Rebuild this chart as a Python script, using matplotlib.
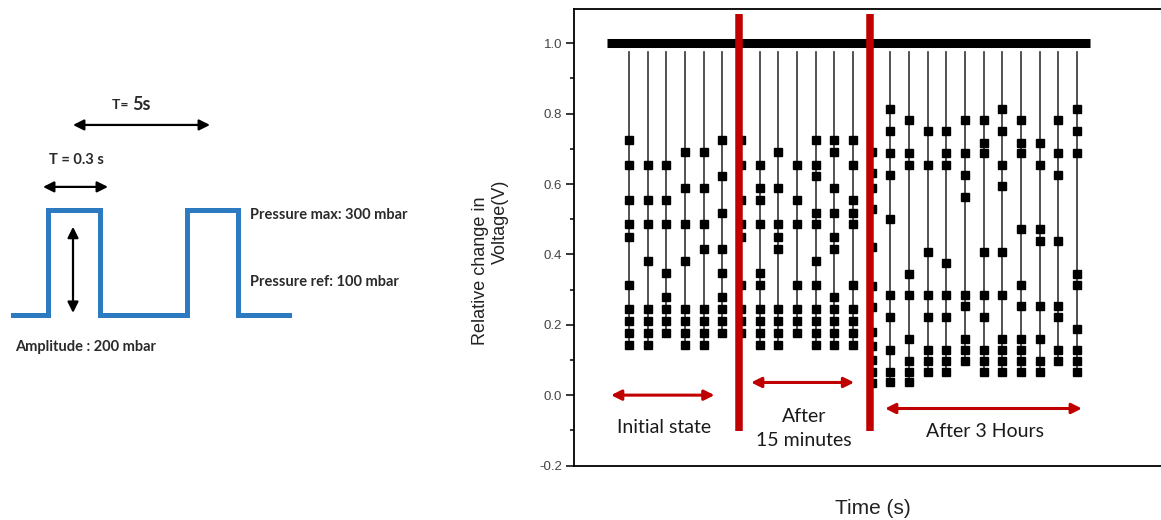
import matplotlib
matplotlib.use("Agg")
import matplotlib.pyplot as plt
from matplotlib.ticker import MultipleLocator, FormatStrFormatter

# ---- left panel: pressure pulse schematic (x in drawing units, y in mbar)
pulse_x = [13, 48, 48, 100, 100, 187, 187, 238, 238, 289]
pulse_p = [100, 100, 300, 300, 100, 100, 300, 300, 100, 100]
period_arrow = (73, 210, 462)      # x0, x1, level
width_arrow = (43, 108, 344)
amp_arrow = (73, 268, 104)         # x, top, bottom

# ---- right panel: relative change in voltage per pulse
pulse_t = [5 * i for i in range(25)]
peaks = [
    [0.726, 0.655, 0.554, 0.485, 0.450, 0.313, 0.244, 0.210, 0.176, 0.142],
    [0.655, 0.554, 0.485, 0.381, 0.244, 0.210, 0.176, 0.142],
    [0.655, 0.554, 0.485, 0.346, 0.278, 0.244, 0.210, 0.176],
    [0.690, 0.588, 0.485, 0.381, 0.244, 0.210, 0.176, 0.142],
    [0.690, 0.588, 0.485, 0.415, 0.244, 0.210, 0.176, 0.142],
    [0.726, 0.622, 0.518, 0.415, 0.346, 0.278, 0.244, 0.210, 0.176],
    [0.726, 0.655, 0.554, 0.485, 0.450, 0.313, 0.244, 0.210, 0.176],
    [0.655, 0.588, 0.554, 0.485, 0.346, 0.313, 0.244, 0.210, 0.176, 0.142],
    [0.690, 0.588, 0.485, 0.450, 0.415, 0.244, 0.210, 0.176, 0.142],
    [0.655, 0.554, 0.485, 0.313, 0.244, 0.210, 0.176],
    [0.726, 0.655, 0.622, 0.518, 0.485, 0.381, 0.313, 0.244, 0.210, 0.176, 0.142],
    [0.726, 0.690, 0.588, 0.518, 0.450, 0.415, 0.278, 0.244, 0.210, 0.176, 0.142],
    [0.726, 0.655, 0.554, 0.518, 0.485, 0.313, 0.244, 0.210, 0.176, 0.142],
    [0.69, 0.63, 0.59, 0.53, 0.42, 0.31, 0.25, 0.18, 0.14, 0.10, 0.065, 0.035],
    [0.813, 0.752, 0.688, 0.626, 0.501, 0.284, 0.223, 0.127, 0.066, 0.036],
    [0.781, 0.688, 0.655, 0.344, 0.284, 0.159, 0.096, 0.066, 0.036],
    [0.752, 0.655, 0.408, 0.284, 0.223, 0.127, 0.096, 0.066],
    [0.752, 0.688, 0.655, 0.376, 0.284, 0.223, 0.127, 0.096, 0.066],
    [0.781, 0.688, 0.626, 0.563, 0.284, 0.253, 0.159, 0.127, 0.096],
    [0.781, 0.718, 0.688, 0.408, 0.284, 0.223, 0.127, 0.096, 0.066],
    [0.813, 0.752, 0.655, 0.594, 0.408, 0.284, 0.159, 0.127, 0.096, 0.066],
    [0.781, 0.718, 0.688, 0.471, 0.313, 0.253, 0.159, 0.127, 0.096, 0.066],
    [0.718, 0.655, 0.471, 0.439, 0.253, 0.159, 0.096, 0.066],
    [0.781, 0.688, 0.626, 0.439, 0.253, 0.223, 0.127, 0.096],
    [0.813, 0.752, 0.688, 0.344, 0.313, 0.189, 0.127, 0.096, 0.066],
]
stem_top = 0.974
baseline_t = (-6, 123.5)
baseline_v = 1.0
dividers = [29.5, 64.5]
divider_span = (-0.101, 1.082)
phases = ["Initial state", "After\n15 minutes", "After 3 Hours"]
phase_arrows = [(-4.8, 22.9, 0.0), (32.7, 60.3, 0.036), (68.6, 121.3, -0.038)]
phase_text_y = [-0.092, -0.095, -0.103]

RED = "#C00000"
BLUE = "#2C7BC0"

fig = plt.figure(figsize=(11.61, 5.20), dpi=100)

# left schematic
axl = fig.add_axes([0, 0, 420 / 1161, 1])
axl.set_xlim(0, 420)
axl.set_ylim(-290.5, 700)
axl.axis("off")
axl.plot(pulse_x, pulse_p, color=BLUE, lw=3.6, solid_joinstyle="miter")

arr = dict(arrowstyle="<|-|>", color="black", lw=1.6, mutation_scale=16,
           shrinkA=0, shrinkB=0)
axl.annotate("", xy=(period_arrow[0], period_arrow[2]),
             xytext=(period_arrow[1], period_arrow[2]), arrowprops=arr)
axl.annotate("", xy=(width_arrow[0], width_arrow[2]),
             xytext=(width_arrow[1], width_arrow[2]), arrowprops=arr)
axl.annotate("", xy=(amp_arrow[0], amp_arrow[1]),
             xytext=(amp_arrow[0], amp_arrow[2]), arrowprops=arr)

tc = "#2a2a2a"
axl.text(132, 500, "T= ", ha="right", va="center", fontsize=10,
         family="Lato", weight="bold", color=tc)
axl.text(132, 500, "5s", ha="left", va="center", fontsize=13,
         family="Lato", weight="bold", color=tc)
axl.text(76, 395, "T = 0.3 s", ha="center", va="center", fontsize=10.5,
         family="Lato", weight="bold", color=tc)
axl.text(250, 290, "Pressure max: 300 mbar", ha="left", va="center",
         fontsize=10.5, family="Lato", weight="bold", color=tc)
axl.text(250, 163, "Pressure ref: 100 mbar", ha="left", va="center",
         fontsize=10.5, family="Lato", weight="bold", color=tc)
axl.text(15, 39, "Amplitude : 200 mbar", ha="left", va="center",
         fontsize=10.5, family="Lato", weight="bold", color=tc)

# right chart
ax = fig.add_axes([574 / 1161, (520 - 465.5) / 520, 587 / 1161, 456.5 / 520])
ax.set_xlim(-14.73, 142.5)
ax.set_ylim(-0.2, 1.0975)

ax.plot(baseline_t, [baseline_v, baseline_v], color="black", lw=6.5,
        solid_capstyle="butt", zorder=3)
for t, vals in zip(pulse_t, peaks):
    ax.plot([t, t], [stem_top, min(vals)], color="#333333", lw=1.2, zorder=2)
    ax.plot([t] * len(vals), vals, ls="none", marker="s", ms=6,
            color="black", zorder=3)

for d in dividers:
    ax.plot([d, d], divider_span, color=RED, lw=5.4, solid_capstyle="butt",
            zorder=4, clip_on=False)

red_arr = dict(arrowstyle="<|-|>", color=RED, lw=2.2, mutation_scale=15,
               shrinkA=0, shrinkB=0)
for (x0, x1, y), label, ty in zip(phase_arrows, phases, phase_text_y):
    ax.annotate("", xy=(x0, y), xytext=(x1, y), arrowprops=red_arr, zorder=5)
    ax.text((x0 + x1) / 2 + 0.3, ty, label, ha="center", va="center",
            fontsize=14, family="Lato", color="#1a1a1a", linespacing=1.5)

ax.spines["right"].set_visible(False)
for s in ["left", "top", "bottom"]:
    ax.spines[s].set_linewidth(1.3)
ax.set_xticks([])
ax.yaxis.set_major_locator(MultipleLocator(0.2))
ax.yaxis.set_minor_locator(MultipleLocator(0.1))
ax.yaxis.set_major_formatter(FormatStrFormatter("%.1f"))
ax.tick_params(axis="y", which="major", direction="out", length=5.5, width=1.1,
               labelsize=9.5, labelcolor="#444444", pad=3)
ax.tick_params(axis="y", which="minor", direction="out", length=3, width=1.1)
for lbl in ax.get_yticklabels():
    lbl.set_family("Liberation Sans")

# y label: two lines, each centred on its own (as in the source figure)
ax.text(-0.160, 0.426, "Relative change in", transform=ax.transAxes,
        rotation=90, ha="center", va="center", fontsize=13,
        family="Liberation Sans", color="#222222")
ax.text(-0.126, 0.533, "Voltage(V)", transform=ax.transAxes,
        rotation=90, ha="center", va="center", fontsize=13,
        family="Liberation Sans", color="#222222")
ax.set_xlabel("Time (s)", fontsize=15, family="Liberation Sans", color="#222222")
ax.xaxis.set_label_coords(0.51, -0.073)

fig.savefig("out.png", dpi=100)
